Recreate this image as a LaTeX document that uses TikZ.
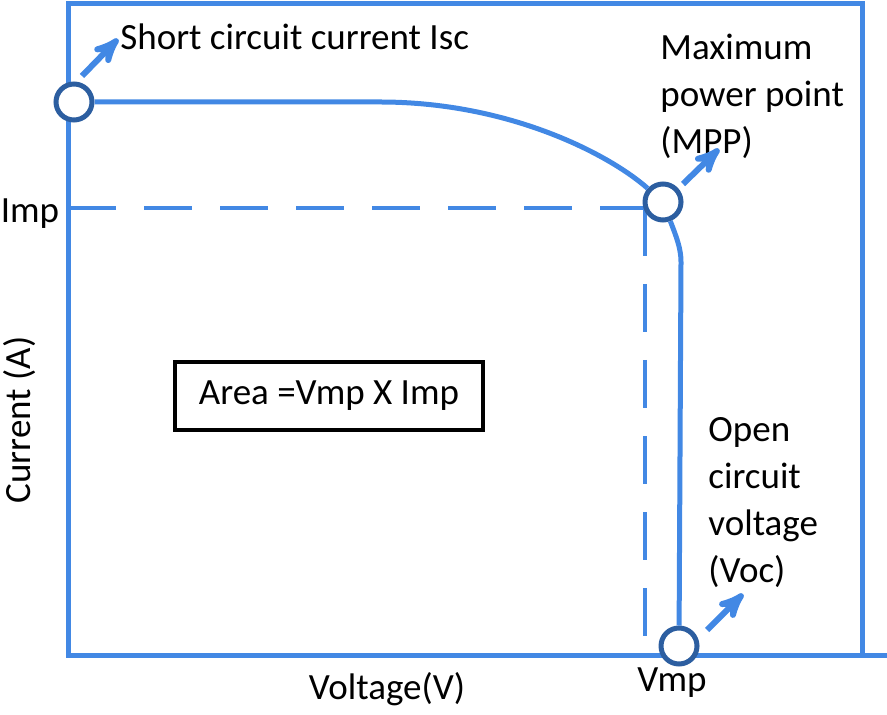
\documentclass[tikz,border=0pt]{standalone}
\usepackage{fontspec}
\setmainfont{Carlito}
\usetikzlibrary{arrows,positioning}
\definecolor{ivblue}{RGB}{66,136,228}
\definecolor{ptblue}{RGB}{44,94,160}

\begin{document}
\begin{tikzpicture}[x=0.5pt,y=-0.5pt,font=\fontsize{18.5}{23.5}\selectfont,
    axis/.style={ivblue,line width=2.5pt,line join=miter},
    ivcurve/.style={ivblue,line width=2.5pt},
    guide/.style={ivblue,line width=2.4pt,dash pattern=on 24pt off 14pt},
    opnode/.style={circle,draw=ptblue,line width=2.5pt,fill=white,minimum size=18pt,inner sep=0pt},
    pointer/.style={->,>=stealth',ivblue,line width=3pt},
    note/.style={inner sep=0pt,align=left,anchor=west}]
  \useasboundingbox (0,0) rectangle (887,715);
  \draw[axis] (68,4) rectangle (862,655);
  \draw[axis] (862,655) -- (887,655);

  \coordinate (impaxis) at (68,208);
  \coordinate (corner) at (645,208);
  \coordinate (vmpaxis) at (645,655);
  \draw[guide] (impaxis) -- (corner);
  \draw[guide] (corner) -- (vmpaxis);

  \node[opnode] (isc) at (74,102) {};
  \node[opnode] (mpp) at (663,202) {};
  \node[opnode] (voc) at (679,646) {};

  \coordinate (knee) at (380,102);
  \coordinate (bend) at (681,262);
  \draw[ivcurve] (isc) -- (knee) .. controls (510,102) and (610,155) .. (mpp);
  \draw[ivcurve] (mpp) .. controls (676,236) and (681,248) .. (bend) -- (voc);

  \node[note] (isclabel) at (120,37) {Short circuit current Isc};
  \node[note] (mpplabel) at (660,96) {Maximum\\power point\\(MPP)};
  \node[note] (voclabel) at (708,503) {Open\\circuit\\voltage\\(Voc)};
  \node (implabel) at (30,214) {Imp};
  \node[rotate=90] (ylabel) at (20,420) {Current (A)};
  \node (xlabel) at (387,689) {Voltage(V)};
  \node (vmplabel) at (672,683) {Vmp};
  \node[draw=black,line width=2pt,minimum width=154pt,minimum height=33.5pt] (areabox) at (329,396) {Area =Vmp X Imp};

  \coordinate (isctail) at (82,76);
  \coordinate (isctip) at (118,39);
  \coordinate (mpptail) at (683,184);
  \coordinate (mpptip) at (719,149);
  \coordinate (voctail) at (707,630);
  \coordinate (voctip) at (743,594);
  \draw[pointer] (isctail) -- (isctip);
  \draw[pointer] (mpptail) -- (mpptip);
  \draw[pointer] (voctail) -- (voctip);
\end{tikzpicture}
\end{document}
